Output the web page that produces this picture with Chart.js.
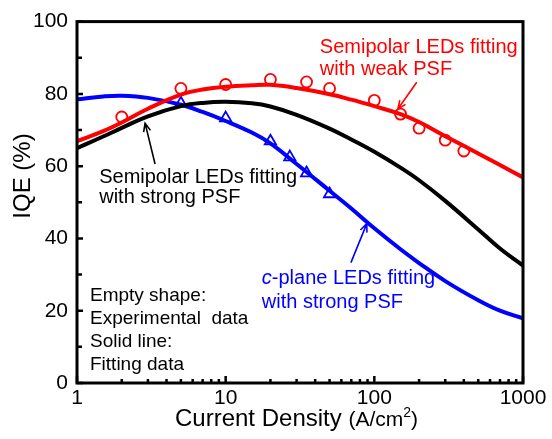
<!DOCTYPE html>
<html>
<head>
<meta charset="utf-8">
<script src="https://cdn.jsdelivr.net/npm/chart.js@4.4.0/dist/chart.umd.min.js"></script>
<style>
  html, body { margin: 0; padding: 0; background: #fff; }
</style>
</head>
<body>
<canvas id="iqeChart" width="552" height="439"></canvas>
<script>
// fitted curves
const fitX      = [1, 1.5, 2, 3, 5, 7, 10, 15, 20, 30, 50, 70, 100, 150, 200, 300, 500, 700, 1000];
const fitWeak   = [66.9, 69.7, 72.1, 75.9, 79.8, 81.2, 82.0, 82.4, 82.5, 81.6, 79.9, 78.4, 76.6, 74.4, 72.2, 68.3, 63.5, 60.3, 56.9];
const fitStrong = [65.0, 68.2, 70.6, 73.8, 76.6, 77.5, 77.8, 77.4, 76.5, 74.2, 70.4, 67.4, 64.0, 59.6, 56.1, 50.4, 42.5, 37.2, 32.5];
const fitCplane = [78.5, 79.3, 79.5, 78.9, 77.0, 75.0, 72.5, 69.3, 66.3, 60.6, 53.2, 48.3, 42.8, 37.0, 33.2, 28.2, 22.9, 20.0, 17.9];

// experimental points
const semiX = [2, 5, 10, 20, 35, 50, 100, 150, 200, 300, 400];
const semiY = [73.6, 81.5, 82.6, 84.0, 83.3, 81.5, 78.2, 74.4, 70.5, 67.2, 64.2];
const cX = [5, 10, 20, 27, 35, 50];
const cY = [77.4, 73.3, 66.9, 62.5, 58.1, 52.3];

const xTicks = [1, 10, 100, 1000];
const yTicks = [0, 20, 40, 60, 80, 100];
const xMinor = [2, 3, 4, 5, 6, 7, 8, 9, 20, 30, 40, 50, 60, 70, 80, 90, 200, 300, 400, 500, 600, 700, 800, 900];
const yMinor = [10, 30, 50, 70, 90];

const FONT = "'Liberation Sans', Arial, sans-serif";

function pts(xs, ys) {
  return xs.map((x, i) => ({ x: x, y: ys[i] }));
}

function drawArrow(ctx, x1, y1, x2, y2, color) {
  const a = Math.atan2(y2 - y1, x2 - x1);
  const h = 9;
  ctx.save();
  ctx.strokeStyle = color;
  ctx.lineWidth = 1.6;
  ctx.beginPath();
  ctx.moveTo(x1, y1);
  ctx.lineTo(x2, y2);
  ctx.moveTo(x2 - h * Math.cos(a - 0.4), y2 - h * Math.sin(a - 0.4));
  ctx.lineTo(x2, y2);
  ctx.lineTo(x2 - h * Math.cos(a + 0.4), y2 - h * Math.sin(a + 0.4));
  ctx.stroke();
  ctx.restore();
}

const decor = {
  id: "decor",
  afterDraw(chart) {
    const { ctx, chartArea: ca, scales } = chart;
    const xs = scales.x, ys = scales.y;
    const px = v => xs.getPixelForValue(v);
    const py = v => ys.getPixelForValue(v);

    ctx.save();
    // frame
    ctx.strokeStyle = "#000";
    ctx.lineWidth = 3;
    ctx.strokeRect(ca.left, ca.top, ca.right - ca.left, ca.bottom - ca.top);

    // inward ticks
    ctx.lineWidth = 2.5;
    ctx.beginPath();
    xTicks.forEach(v => { ctx.moveTo(px(v), ca.bottom); ctx.lineTo(px(v), ca.bottom - 7); });
    xMinor.forEach(v => { ctx.moveTo(px(v), ca.bottom); ctx.lineTo(px(v), ca.bottom - 4); });
    yTicks.forEach(v => { ctx.moveTo(ca.left, py(v)); ctx.lineTo(ca.left + 6, py(v)); });
    yMinor.forEach(v => { ctx.moveTo(ca.left, py(v)); ctx.lineTo(ca.left + 5, py(v)); });
    ctx.stroke();

    // axis titles
    ctx.fillStyle = "#000";
    ctx.textBaseline = "middle";
    ctx.font = "24px " + FONT;
    ctx.save();
    ctx.translate(23, 176);
    ctx.rotate(-Math.PI / 2);
    ctx.textAlign = "center";
    ctx.fillText("IQE (%)", 0, 0);
    ctx.restore();

    ctx.textAlign = "left";
    let tx = 175;
    const ty = 419;
    ctx.font = "24px " + FONT;
    ctx.fillText("Current Density ", tx, ty);
    tx += ctx.measureText("Current Density ").width;
    ctx.font = "21px " + FONT;
    ctx.fillText("(A/cm", tx, ty + 1);
    tx += ctx.measureText("(A/cm").width;
    ctx.font = "14px " + FONT;
    ctx.fillText("2", tx, ty - 6);
    tx += ctx.measureText("2").width;
    ctx.font = "21px " + FONT;
    ctx.fillText(")", tx, ty + 1);

    // annotations (anchored in data coordinates)
    ctx.font = "20px " + FONT;
    ctx.fillStyle = "#ff0000";
    ctx.fillText("Semipolar LEDs fitting", px(43), py(92.8));
    ctx.fillText("with weak PSF", px(43), py(86.8));
    drawArrow(ctx, px(193), py(83.2), px(144), py(75.8), "#ff0000");

    ctx.fillStyle = "#000";
    ctx.fillText("Semipolar LEDs fitting", px(1.41), py(57));
    ctx.fillText("with strong PSF", px(1.41), py(51.2));
    drawArrow(ctx, px(3.35), py(60.6), px(2.87), py(71.9), "#000");

    ctx.fillStyle = "#0000ff";
    ctx.font = "italic 20px " + FONT;
    const cx0 = px(17.5);
    ctx.fillText("c", cx0, py(28.9));
    const cw = ctx.measureText("c").width;
    ctx.font = "20px " + FONT;
    ctx.fillText("-plane LEDs fitting", cx0 + cw, py(28.9));
    ctx.fillText("with strong PSF", cx0, py(22.3));
    drawArrow(ctx, px(69.6), py(33.3), px(89), py(44.1), "#0000ff");

    ctx.fillStyle = "#000";
    ctx.font = "19px " + FONT;
    const lx = px(1.223);
    ctx.fillText("Empty shape:", lx, py(24.2));
    ctx.fillText("Experimental  data", lx, py(17.9));
    ctx.fillText("Solid line:", lx, py(11.3));
    ctx.fillText("Fitting data", lx, py(5.0));
    ctx.restore();
  }
};

const curveStyle = { showLine: true, borderWidth: 4, pointRadius: 0, tension: 0.4 };

new Chart(document.getElementById("iqeChart"), {
  type: "scatter",
  data: {
    datasets: [
      Object.assign({ label: "Semipolar strong PSF fit", data: pts(fitX, fitStrong), borderColor: "#000" }, curveStyle),
      Object.assign({ label: "Semipolar weak PSF fit", data: pts(fitX, fitWeak), borderColor: "#ff0000" }, curveStyle),
      Object.assign({ label: "c-plane strong PSF fit", data: pts(fitX, fitCplane), borderColor: "#0000ff" }, curveStyle),
      {
        label: "Semipolar experimental",
        data: pts(semiX, semiY),
        pointStyle: "circle", pointRadius: 5.5,
        borderColor: "#ff0000", borderWidth: 1.8, backgroundColor: "rgba(0,0,0,0)"
      },
      {
        label: "c-plane experimental",
        data: pts(cX, cY),
        pointStyle: "triangle", pointRadius: 6.5,
        borderColor: "#0000ff", borderWidth: 1.8, backgroundColor: "rgba(0,0,0,0)"
      }
    ]
  },
  options: {
    responsive: false,
    animation: false,
    devicePixelRatio: 1,
    layout: { padding: { top: 20, right: 29, left: 0, bottom: 0 } },
    plugins: { legend: { display: false }, tooltip: { enabled: false } },
    scales: {
      x: {
        type: "logarithmic",
        min: 1, max: 1000,
        grid: { display: false, drawTicks: false },
        border: { display: false },
        afterBuildTicks: s => { s.ticks = xTicks.map(v => ({ value: v })); },
        afterFit: s => { s.height = 56; },
        ticks: {
          color: "#000", padding: 3, maxRotation: 0, autoSkip: false,
          font: { family: FONT, size: 21 },
          callback: v => String(v)
        }
      },
      y: {
        min: 0, max: 100,
        grid: { display: false, drawTicks: false },
        border: { display: false },
        afterFit: s => { s.width = 77; },
        ticks: {
          color: "#000", padding: 9, stepSize: 20,
          font: { family: FONT, size: 21 }
        }
      }
    }
  },
  plugins: [decor]
});
</script>
</body>
</html>
